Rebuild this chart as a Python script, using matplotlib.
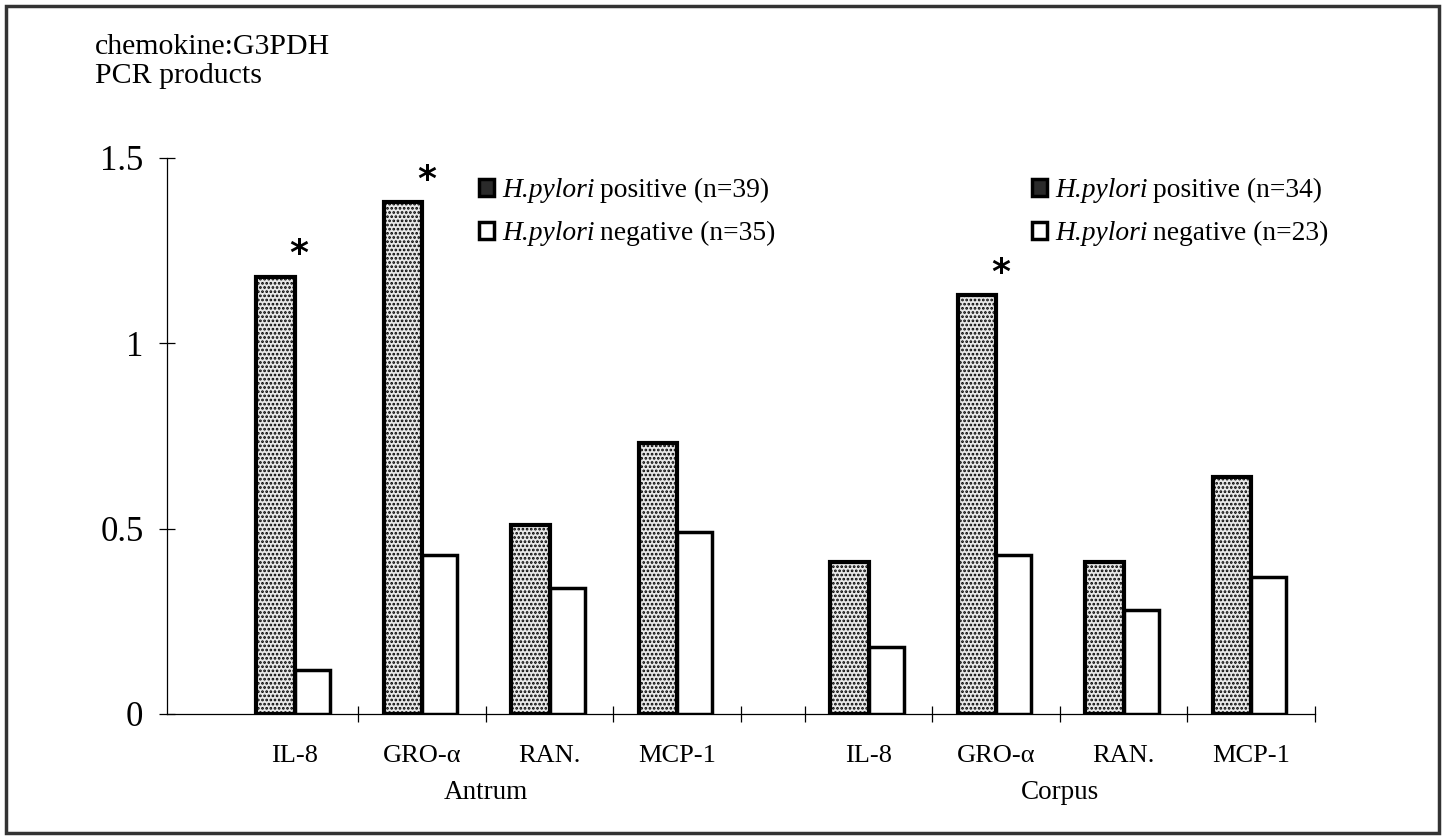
import matplotlib
matplotlib.use("Agg")
import matplotlib.pyplot as plt
from matplotlib.patches import Rectangle
import matplotlib.transforms as mtransforms
import numpy as np

"""Chart data"""
chemokines = ["IL-8", "GRO-\u03b1", "RAN.", "MCP-1"]
regions = ["Antrum", "Corpus"]
antrum_pos = [1.18, 1.38, 0.51, 0.73]
antrum_neg = [0.12, 0.43, 0.34, 0.49]
corpus_pos = [0.41, 1.13, 0.41, 0.64]
corpus_neg = [0.18, 0.43, 0.28, 0.37]
antrum_star = [True, True, False, False]
corpus_star = [False, True, False, False]
antrum_labels = ["H.pylori positive (n=39)", "H.pylori negative (n=35)"]
corpus_labels = ["H.pylori positive (n=34)", "H.pylori negative (n=23)"]

"""Positions on the category axis"""
antrum_x = np.arange(1, 5)
corpus_x = np.arange(1, 5) + 4.5
bar_w = 0.3

plt.rcParams["font.family"] = ["Liberation Serif", "DejaVu Serif"]
plt.rcParams["hatch.linewidth"] = 1.3

fig = plt.figure(figsize=(14.45, 8.36), dpi=100)
ax = fig.add_axes([167/1445, 1-714/836, (1315-167)/1445, (714-158)/836])

pos_style = dict(facecolor="#e8e8e8", edgecolor="black", hatch="....", linewidth=3)
neg_style = dict(facecolor="white", edgecolor="black", linewidth=2.5)

pa = ax.bar(antrum_x, antrum_pos, width=-bar_w, align="edge", **pos_style)
na = ax.bar(antrum_x, antrum_neg, width=bar_w * 0.92, align="edge", **neg_style)
pc = ax.bar(corpus_x, corpus_pos, width=-bar_w, align="edge", **pos_style)
nc = ax.bar(corpus_x, corpus_neg, width=bar_w * 0.92, align="edge", **neg_style)

for xs, vals, stars in [(antrum_x, antrum_pos, antrum_star), (corpus_x, corpus_pos, corpus_star)]:
    for x, v, s in zip(xs, vals, stars):
        if s:
            ax.annotate("*", (x, v), xytext=(3, 4), textcoords="offset points",
                        ha="center", va="bottom", fontsize=26, fontweight="bold",
                        family="DejaVu Sans")

ax.set_xlim(0, 9)
ax.set_ylim(0, 1.5)
ax.spines["top"].set_visible(False)
ax.spines["right"].set_visible(False)
ax.spines["left"].set_linewidth(0.9)
ax.spines["bottom"].set_linewidth(0.9)

ax.set_yticks([0, 0.5, 1, 1.5])
ax.set_yticklabels(["0", "0.5", "1", "1.5"])
ax.tick_params(axis="y", direction="inout", length=12, width=0.9, pad=11, labelsize=25)

ax.set_xticks([1.5, 2.5, 3.5, 4.5, 5, 6, 7, 8, 9])
ax.set_xticklabels([])
ax.tick_params(axis="x", which="major", direction="inout", length=12, width=0.9)
ax.set_xticks(list(antrum_x) + list(corpus_x), minor=True)
ax.set_xticklabels(chemokines + chemokines, minor=True)
ax.tick_params(axis="x", which="minor", length=0, pad=22, labelsize=19)

trans = mtransforms.blended_transform_factory(ax.transData, ax.transAxes)
ax.text(antrum_x.mean(), -0.118, regions[0], transform=trans, ha="center", va="top", fontsize=19.5)
ax.text(corpus_x.mean(), -0.118, regions[1], transform=trans, ha="center", va="top", fontsize=19.5)

fig.text(95/1445, 1-47/836, "chemokine:G3PDH", ha="left", va="center", fontsize=21.5)
fig.text(95/1445, 1-76/836, "PCR products", ha="left", va="center", fontsize=21.5)

"""Legend handles: dark stippled square and open square"""
h_pos = Rectangle((0, 0), 1, 1, facecolor="#2a2a2a", edgecolor="black", linewidth=2.5)
h_neg = Rectangle((0, 0), 1, 1, facecolor="white", edgecolor="black", linewidth=2.5)

FS = 19.8
leg_kw = dict(loc="upper left", bbox_transform=fig.transFigure, frameon=False, fontsize=FS,
              borderpad=0, handlelength=0.57, handleheight=0.57, handletextpad=0.3,
              labelspacing=0.65)
leg1 = ax.legend([h_pos, h_neg], antrum_labels, bbox_to_anchor=(465/1445, 1-164/836), **leg_kw)
ax.add_artist(leg1)
leg2 = ax.legend([h_pos, h_neg], corpus_labels, bbox_to_anchor=(1018/1445, 1-164/836), **leg_kw)

"""Legend texts: italic species name followed by upright text"""
fig.canvas.draw()
renderer = fig.canvas.get_renderer()
for leg, labels in [(leg1, antrum_labels), (leg2, corpus_labels)]:
    for t, lab in zip(leg.get_texts(), labels):
        head, tail = lab.split(" ", 1)
        bb = t.get_window_extent(renderer)
        x0, y0 = bb.x0, (bb.y0 + bb.y1) / 2
        t.set_visible(False)
        it = fig.text(x0 / 1445, y0 / 836, head, style="italic", fontsize=FS, va="center", ha="left")
        w = it.get_window_extent(renderer).width
        fig.text((x0 + w + 5) / 1445, y0 / 836, tail, fontsize=FS, va="center", ha="left")

fig.patches.append(Rectangle((6/1445, 3/836), 1433/1445, 827/836, transform=fig.transFigure,
                             fill=False, edgecolor="#333333", linewidth=2.5))

fig.savefig("out.png", dpi=100)
